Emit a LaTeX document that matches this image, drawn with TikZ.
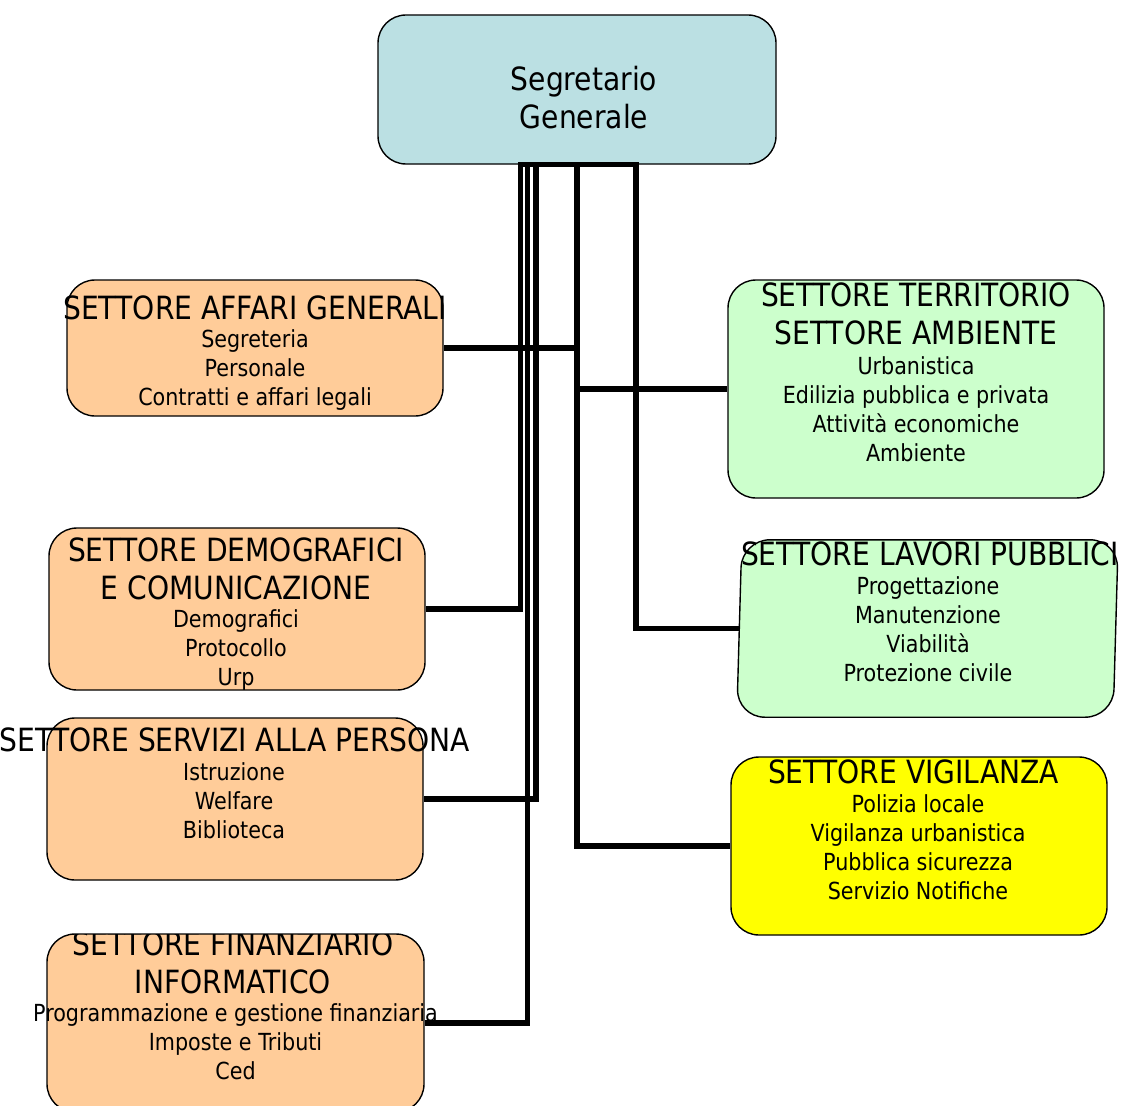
\documentclass[tikz,border=0pt]{standalone}
\usepackage{fontspec}
\setmainfont{DejaVu Sans}[FakeStretch=0.88]
\usetikzlibrary{calc}
\definecolor{sgblue}{HTML}{BBE0E3}
\definecolor{peach}{HTML}{FFCC99}
\definecolor{mint}{HTML}{CCFFCC}
\definecolor{vigyellow}{HTML}{FFFF00}
\begin{document}
\begin{tikzpicture}[x=1pt,y=-1pt,
  box/.style={draw=black, line width=1.4pt, rounded corners=28pt, inner sep=0pt, minimum width=376pt},
  ghost/.style={inner sep=0pt, minimum width=376pt},
  titletext/.style={align=center, inner sep=0pt, font=\fontsize{32}{38}\selectfont},
  bodytext/.style={align=center, inner sep=0pt, font=\fontsize{23.5}{29}\selectfont},
  conn/.style={draw=black, line width=5.5pt}]
\useasboundingbox (0,0) rectangle (1131,1105);

% boxes
\node[box, fill=sgblue, minimum width=398pt, minimum height=149pt] (sg) at (577,89.5) {};
\node[box, fill=peach, minimum height=136pt] (aff) at (255,348) {};
\node[box, fill=peach, minimum height=162pt] (dem) at (237,609) {};
\node[box, fill=peach, minimum height=162pt] (serv) at (235,799) {};
\node[box, fill=peach, minimum width=377pt, minimum height=178pt] (fin) at (235.5,1023) {};
\node[box, fill=mint, minimum height=218pt] (terr) at (916,389) {};
\node[ghost, minimum height=177pt] (lav) at (927.5,628.5) {};
\draw[draw=black, line width=1.4pt, rounded corners=28pt, fill=mint]
  ($(lav.north west)+(2.5,0)$) -- ($(lav.north east)+(2.5,0)$) --
  ($(lav.south east)+(-2.5,0)$) -- ($(lav.south west)+(-2.5,0)$) -- cycle;
\node[box, fill=vigyellow, minimum height=178pt] (vig) at (919,846) {};

% texts
\node[titletext] (sgt) at (584,97.5) {Segretario\\Generale};

\node[titletext] (afft) at (255,307.5) {SETTORE AFFARI GENERALI};
\node[bodytext] (affb) at (255,370.5) {Segreteria\\Personale\\Contratti e affari legali};

\node[titletext] (demt) at (236,568.5) {SETTORE DEMOGRAFICI\\E COMUNICAZIONE};
\node[bodytext] (demb) at (236,650.5) {Demografici\\Protocollo\\Urp};

\node[titletext] (servt) at (235,739.5) {SETTORE SERVIZI ALLA PERSONA};
\node[bodytext] (servb) at (234,800.5) {Istruzione\\Welfare\\Biblioteca};

\begin{scope}
\clip (-100,934) rectangle (1300,1200);
\node[titletext] (fint) at (233,962.5) {SETTORE FINANZIARIO\\INFORMATICO};
\end{scope}
\node[bodytext] (finb) at (235.5,1041.5) {Programmazione e gestione finanziaria\\Imposte e Tributi\\Ced};

\begin{scope}
\clip (-100,280) rectangle (1300,1200);
\node[titletext] (terrt) at (916,313.5) {SETTORE TERRITORIO\\SETTORE AMBIENTE};
\end{scope}
\node[bodytext] (terrb) at (916,409.5) {Urbanistica\\Edilizia pubblica e privata\\Attività economiche\\Ambiente};

\begin{scope}
\clip (-100,540) rectangle (1300,1200);
\node[titletext] (lavt) at (930,553.5) {SETTORE LAVORI PUBBLICI};
\end{scope}
\node[bodytext] (lavb) at (928,629.5) {Progettazione\\Manutenzione\\Viabilità\\Protezione civile};

\begin{scope}
\clip (-100,757) rectangle (1300,1200);
\node[titletext] (vigt) at (913.5,771.5) {SETTORE VIGILANZA};
\end{scope}
\node[bodytext] (vigb) at (918,847.5) {Polizia locale\\Vigilanza urbanistica\\Pubblica sicurezza\\Servizio Notifiche};

% connectors
\draw[conn] (sg.south) -- ++(-56.5,0) |- (dem.east);
\draw[conn] (sg.south) -- ++(-49.5,0) |- (fin.east);
\draw[conn] (sg.south) -- ++(-41,0) |- (serv.east);
\draw[conn] (sg.south) |- (aff.east);
\draw[conn] (sg.south) |- (terr.west);
\draw[conn] (sg.south) |- (vig.west);
\draw[conn] (sg.south) -- ++(59,0) |- (lav.west);
\end{tikzpicture}
\end{document}
